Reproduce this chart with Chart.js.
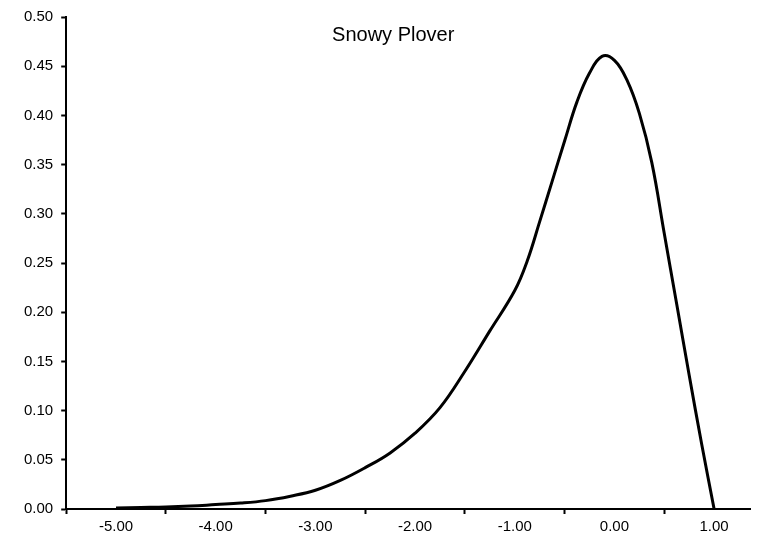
<!DOCTYPE html>
<html>
<head>
<meta charset="utf-8">
<script src="https://cdn.jsdelivr.net/npm/chart.js@4/dist/chart.umd.min.js"></script>
<style>
    html, body { margin: 0; padding: 0; background: #fff; }
    #wrap { width: 761px; height: 547px; }
</style>
</head>
<body>
<div id="wrap"><canvas id="densityChart"></canvas></div>
<script>
// Snowy Plover density curve
const chartTitle = 'Snowy Plover';

const xValues = [-5.00, -4.75, -4.50, -4.25, -4.00, -3.75, -3.50, -3.25, -3.00, -2.75,
                 -2.50, -2.25, -2.00, -1.75, -1.50, -1.25, -1.00, -0.875, -0.75, -0.625,
                 -0.50, -0.375, -0.25, -0.125, 0.00, 0.125, 0.25, 0.375, 0.50,
                 0.625, 0.75, 0.875, 1.00];
const yValues = [0.001, 0.0015, 0.002, 0.003, 0.0045, 0.006, 0.0085, 0.013, 0.019, 0.029,
                 0.042, 0.057, 0.077, 0.103, 0.140, 0.181, 0.222, 0.252, 0.292, 0.333,
                 0.374, 0.414, 0.443, 0.460, 0.456, 0.436, 0.402, 0.352, 0.280,
                 0.208, 0.136, 0.066, 0.000];

// tick labels on the x axis, tick marks sit halfway between them
const xLabelValues = [-5, -4, -3, -2, -1, 0, 1];
const xTickMarks = [-5.5, -4.5, -3.5, -2.5, -1.5, -0.5, 0.5];
const yTicks = [0, 0.05, 0.10, 0.15, 0.20, 0.25, 0.30, 0.35, 0.40, 0.45, 0.50];

const font = { family: '"Liberation Sans", Arial, sans-serif', size: 15 };

// draws the title inside the plot area like the original
const titlePlugin = {
    id: 'innerTitle',
    afterDraw(chart) {
        const { ctx, chartArea } = chart;
        ctx.save();
        ctx.font = '20px "Liberation Sans", Arial, sans-serif';
        ctx.fillStyle = '#000';
        ctx.textAlign = 'center';
        ctx.textBaseline = 'middle';
        ctx.fillText(chartTitle, chartArea.left + 327, chartArea.top + 18);
        ctx.restore();
    }
};

const points = xValues.map((x, i) => ({ x: x, y: yValues[i] }));

new Chart(document.getElementById('densityChart'), {
    type: 'line',
    data: {
        datasets: [{
            data: points,
            borderColor: '#000',
            borderWidth: 3,
            pointRadius: 0,
            fill: false,
            tension: 0.4
        }]
    },
    options: {
        responsive: true,
        maintainAspectRatio: false,
        animation: false,
        layout: { padding: { left: 16, right: 11, top: 4, bottom: 7 } },
        plugins: {
            legend: { display: false },
            tooltip: { enabled: false },
            title: { display: false }
        },
        scales: {
            x: {
                type: 'linear',
                min: -5.5,
                max: 1.36,
                afterBuildTicks: (scale) => {
                    const vals = xTickMarks.concat(xLabelValues).sort((a, b) => a - b);
                    scale.ticks = vals.map(v => ({ value: v }));
                },
                ticks: {
                    autoSkip: false,
                    maxRotation: 0,
                    color: '#000',
                    font: font,
                    padding: 4,
                    callback: (v) => xLabelValues.includes(v) ? v.toFixed(2) : ''
                },
                grid: {
                    drawOnChartArea: false,
                    drawTicks: true,
                    tickLength: 5,
                    tickWidth: 2,
                    tickColor: (ctx) => (ctx.tick && xTickMarks.includes(ctx.tick.value)) ? '#000' : 'rgba(0,0,0,0)'
                },
                border: { color: '#000', width: 2 }
            },
            y: {
                type: 'linear',
                min: 0,
                max: 0.5,
                afterBuildTicks: (scale) => {
                    scale.ticks = yTicks.map(v => ({ value: v }));
                },
                ticks: {
                    color: '#000',
                    font: font,
                    padding: 8,
                    callback: (v) => Number(v).toFixed(2)
                },
                grid: {
                    drawOnChartArea: false,
                    drawTicks: true,
                    tickLength: 5,
                    tickWidth: 2,
                    tickColor: '#000'
                },
                border: { color: '#000', width: 2 }
            }
        }
    },
    plugins: [titlePlugin]
});
</script>
</body>
</html>
